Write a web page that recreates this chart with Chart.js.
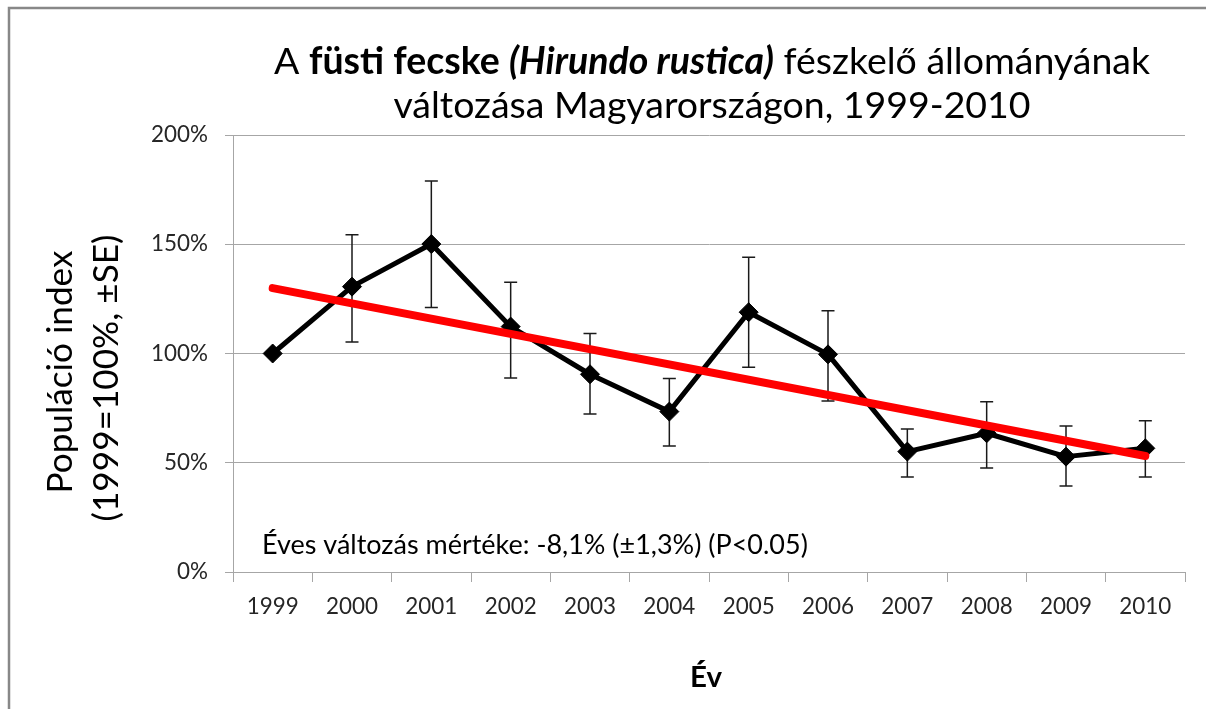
<!DOCTYPE html>
<html>
<head>
<meta charset="utf-8">
<script src="https://cdn.jsdelivr.net/npm/chart.js@4.4.1/dist/chart.umd.min.js"></script>
<style>
  html, body { margin: 0; padding: 0; background: #ffffff; }
  canvas { display: block; }
</style>
</head>
<body>
<canvas id="chart" width="1206" height="709"></canvas>
<script>
// Data (population index, % of 1999)
const years = ['1999', '2000', '2001', '2002', '2003', '2004', '2005', '2006', '2007', '2008', '2009', '2010'];
const indexValues = [100, 130.6, 150.1, 112.3, 90.5, 73.4, 118.9, 99.6, 55.1, 63.5, 52.8, 56.6];
const seLow  = [null, 105.3, 121.0, 88.8, 72.3, 57.7, 93.7, 78.3, 43.5, 47.6, 39.4, 43.5];
const seHigh = [null, 154.4, 178.9, 132.6, 109.2, 88.6, 144.0, 119.6, 65.4, 77.9, 66.8, 69.2];
// Trend line: only its two ends, the line is spanned between them
const trendValues = [129.9, null, null, null, null, null, null, null, null, null, null, 53.1];
const yTicks = [0, 50, 100, 150, 200];

const FONT = 'Lato, "Open Sans", sans-serif';
const GRID = '#a6a6a6';

// pick a font size so that a text gets the width it has in the reference
const measureCtx = document.createElement('canvas').getContext('2d');
function fitSize(text, style, targetWidth) {
  measureCtx.font = style + '100px ' + FONT;
  return 100 * targetWidth / measureCtx.measureText(text).width;
}
const xTickSize = fitSize('1999', '', 52);
const yTickSize = fitSize('200%', '', 57);

// Whisker bars for the standard errors, drawn below the line
const errorBars = {
  id: 'errorBars',
  beforeDatasetsDraw(chart) {
    const { ctx, scales: { x, y } } = chart;
    ctx.save();
    ctx.strokeStyle = '#1a1a1a';
    ctx.lineWidth = 1.5;
    years.forEach((yr, i) => {
      if (seLow[i] == null) return;
      const px = x.getPixelForValue(i);
      const top = y.getPixelForValue(seHigh[i]);
      const bot = y.getPixelForValue(seLow[i]);
      ctx.beginPath();
      ctx.moveTo(px, top); ctx.lineTo(px, bot);
      ctx.moveTo(px - 6.5, top); ctx.lineTo(px + 6.5, top);
      ctx.moveTo(px - 6.5, bot); ctx.lineTo(px + 6.5, bot);
      ctx.stroke();
    });
    ctx.restore();
  }
};

// Frame, titles and the note text
const decorations = {
  id: 'decorations',
  beforeDraw(chart) {
    const ctx = chart.ctx;
    ctx.save();
    ctx.fillStyle = '#ffffff';
    ctx.fillRect(0, 0, chart.width, chart.height);
    ctx.strokeStyle = '#888888';
    ctx.lineWidth = 2.5;
    ctx.beginPath();
    ctx.moveTo(9, chart.height);
    ctx.lineTo(9, 8);
    ctx.lineTo(chart.width, 8);
    ctx.stroke();
    ctx.restore();
  },
  afterDraw(chart) {
    const ctx = chart.ctx;
    ctx.save();
    ctx.fillStyle = '#000000';
    ctx.textBaseline = 'middle';

    // title line 1, mixed styles
    const runs = [
      { t: 'A ', f: '' },
      { t: 'füsti fecske ', f: 'bold ' },
      { t: '(Hirundo rustica)', f: 'italic bold ' },
      { t: ' fészkelő állományának', f: '' }
    ];
    let base = 0;
    runs.forEach(r => {
      ctx.font = r.f + '100px ' + FONT;
      base += ctx.measureText(r.t).width;
    });
    const size = 100 * 876 / base;
    let total = 0;
    runs.forEach(r => {
      ctx.font = r.f + size + 'px ' + FONT;
      r.w = ctx.measureText(r.t).width;
      total += r.w;
    });
    let cx = 712 - total / 2;
    ctx.textAlign = 'left';
    runs.forEach(r => {
      ctx.font = r.f + size + 'px ' + FONT;
      ctx.fillText(r.t, cx, 62);
      cx += r.w;
    });
    ctx.textAlign = 'center';
    ctx.font = size + 'px ' + FONT;
    ctx.fillText('változása Magyarországon, 1999-2010', 712, 106);

    // y axis title, two rotated lines
    const yTitleSize = fitSize('Populáció index', '', 243);
    ctx.save();
    ctx.font = yTitleSize + 'px ' + FONT;
    ctx.translate(61, 372);
    ctx.rotate(-Math.PI / 2);
    ctx.fillText('Populáció index', 0, 0);
    ctx.restore();
    ctx.save();
    ctx.font = yTitleSize + 'px ' + FONT;
    ctx.translate(107, 378);
    ctx.rotate(-Math.PI / 2);
    ctx.fillText('(1999=100%, ±SE)', 0, 0);
    ctx.restore();

    // x axis title
    ctx.font = 'bold ' + fitSize('Év', 'bold ', 32) + 'px ' + FONT;
    ctx.fillText('Év', 706, 677);

    // note inside the plot
    const note = 'Éves változás mértéke: -8,1% (±1,3%) (P<0.05)';
    ctx.textAlign = 'left';
    ctx.font = fitSize(note, '', 546) + 'px ' + FONT;
    ctx.fillText(note, 262, 545);
    ctx.restore();
  }
};

new Chart(document.getElementById('chart'), {
  type: 'line',
  data: {
    labels: years,
    datasets: [
      {
        label: 'Trend',
        data: trendValues,
        borderColor: '#ff0000',
        borderWidth: 8,
        borderCapStyle: 'round',
        pointRadius: 0,
        spanGaps: true,
        order: 0
      },
      {
        label: 'Index',
        data: indexValues,
        borderColor: '#000000',
        borderWidth: 5,
        borderJoinStyle: 'round',
        pointStyle: 'rectRot',
        pointRadius: 9.5,
        pointBackgroundColor: '#000000',
        pointBorderColor: '#000000',
        pointBorderWidth: 1,
        order: 1
      }
    ]
  },
  options: {
    responsive: false,
    animation: false,
    devicePixelRatio: 1,
    layout: { padding: { top: 135, right: 21, left: 0, bottom: 0 } },
    plugins: {
      legend: { display: false },
      tooltip: { enabled: false }
    },
    scales: {
      x: {
        offset: true,
        afterFit: s => { s.height = 137; },
        grid: {
          offset: true,
          drawOnChartArea: false,
          drawTicks: true,
          tickLength: 10,
          color: GRID
        },
        border: { color: GRID, width: 1 },
        ticks: {
          color: '#262626',
          padding: 25 - xTickSize * 0.6,
          maxRotation: 0,
          font: { family: FONT, size: xTickSize }
        }
      },
      y: {
        min: 0,
        max: 200,
        afterFit: s => { s.width = 233; },
        afterBuildTicks: s => { s.ticks = yTicks.map(v => ({ value: v })); },
        grid: {
          color: GRID,
          tickLength: 8,
          drawTicks: true
        },
        border: { color: GRID, width: 1 },
        ticks: {
          color: '#262626',
          padding: 17,
          callback: v => v + '%',
          font: { family: FONT, size: yTickSize }
        }
      }
    }
  },
  plugins: [decorations, errorBars]
});
</script>
</body>
</html>
